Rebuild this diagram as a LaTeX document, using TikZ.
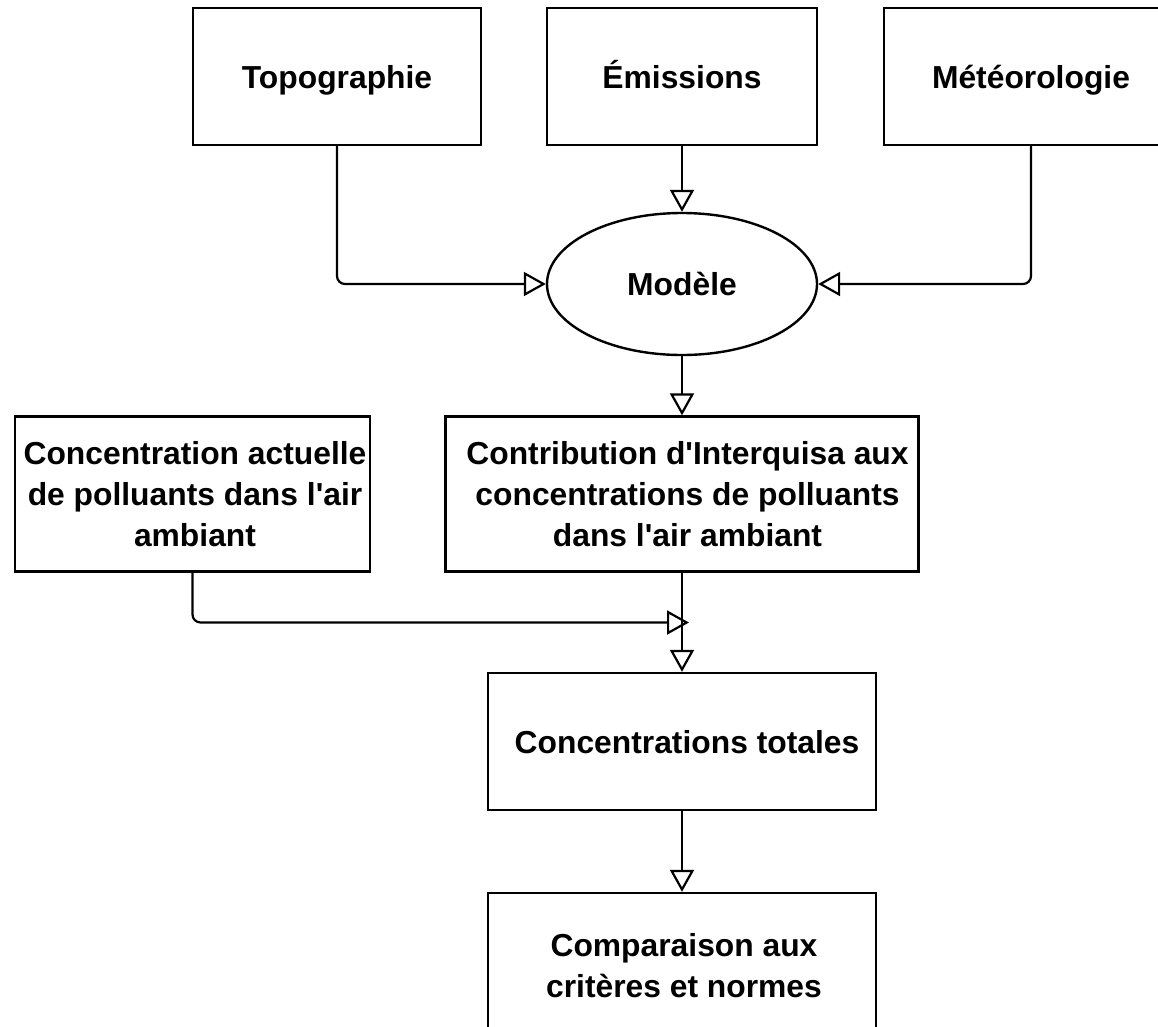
\documentclass[tikz,border=0pt]{standalone}
\usepackage{fontspec}
\setmainfont{Liberation Sans}[Ligatures=TeXOff]
\usetikzlibrary{arrows.meta,shapes.geometric}
\begin{document}
\begin{tikzpicture}[x=1pt,y=-1pt,
  box/.style={draw, line width=2.4pt, rectangle, inner sep=0pt, align=center,
    font=\fontsize{31.8pt}{41pt}\selectfont\bfseries},
  oneline/.style={text height=23pt, text depth=0pt},
  arr/.style={line width=2.2pt, -{Triangle[open, length=22pt, width=24pt]}}]
\useasboundingbox (0,0) rectangle (1158,1026);
\clip (0,0) rectangle (1158,1026);
\fill[white] (0,0) rectangle (1158,1026);
% top row
\node[box, oneline, minimum width=288pt, minimum height=137pt] (topo) at (337,76.5) {Topographie};
\node[box, oneline, minimum width=270pt, minimum height=137pt] (emis) at (682,76.5) {Émissions};
\node[box, oneline, minimum width=294pt, minimum height=137pt] (meteo) at (1031,76.5) {Météorologie};
% model
\node[box, oneline, ellipse, minimum width=270pt, minimum height=142pt] (model) at (682,284) {Modèle};
% middle row
\node[box, minimum width=355pt, minimum height=155pt] (actu) at (192.5,494)
  {\hspace*{5pt}Concentration actuelle\\\hspace*{5pt}de polluants dans l'air\\\hspace*{5pt}ambiant};
\node[box, minimum width=473pt, minimum height=155pt] (contrib) at (682,494)
  {\hspace*{11pt}Contribution d'Interquisa aux\\\hspace*{11pt}concentrations de polluants\\\hspace*{11pt}dans l'air ambiant};
% lower boxes
\node[box, oneline, minimum width=388pt, minimum height=137pt] (total) at (682,741.5) {\hspace*{10pt}Concentrations totales};
\node[box, minimum width=388pt, minimum height=146pt] (comp) at (682,966) {\hspace*{4pt}Comparaison aux\\\hspace*{4pt}critères et normes};
% junction point
\coordinate (junc) at (689,622.5);
% connectors
\draw[arr, rounded corners=8pt] (topo.south) |- (model.west);
\draw[arr] (emis) -- (model);
\draw[arr, rounded corners=8pt] (meteo.south) |- (model.east);
\draw[arr] (model) -- (contrib);
\draw[arr, rounded corners=8pt] (actu.south) |- (junc);
\draw[arr] (contrib) -- (total);
\draw[arr] (total) -- (comp);
\end{tikzpicture}
\end{document}
